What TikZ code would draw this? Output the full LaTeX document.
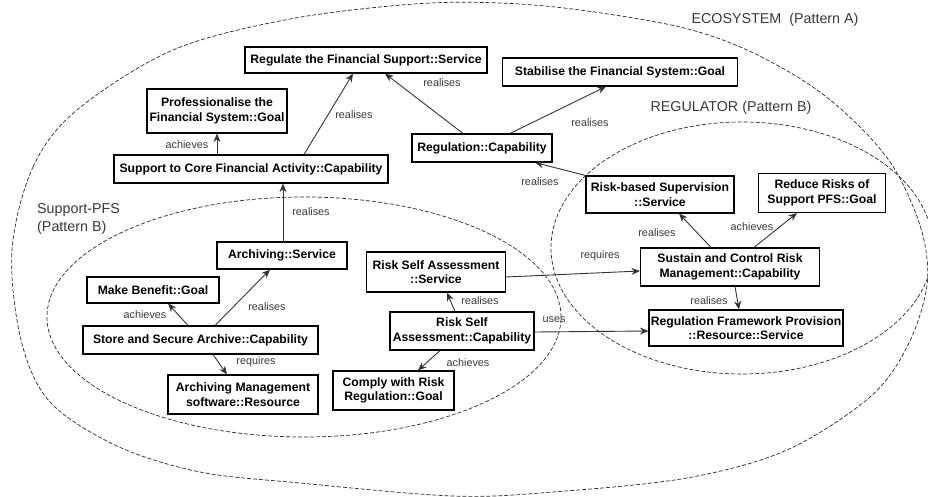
\documentclass[tikz,border=0pt]{standalone}
\usepackage{fontspec}
\setmainfont{Liberation Sans}
\usetikzlibrary{arrows.meta}
\definecolor{lineGray}{HTML}{333333}
\definecolor{labGray}{HTML}{383838}
\definecolor{zoneGray}{HTML}{2A2A2A}
\begin{document}
\begin{tikzpicture}[x=1pt,y=-1pt,
  box/.style={draw=black, line width=1.1pt, fill=white, align=center,
    font=\bfseries\fontsize{12.2}{14.4}\selectfont, inner sep=0pt},
  arr/.style={draw=lineGray, line width=0.9pt, -{Stealth[length=8.5pt,width=7pt]}},
  lab/.style={font=\fontsize{10.8}{13}\selectfont, text=labGray, inner sep=0pt},
  zone/.style={draw=zoneGray, line width=0.7pt, dash pattern=on 4pt off 2pt},
  zlab/.style={font=\fontsize{14.3}{17.5}\selectfont, text=labGray, inner sep=0pt, align=left}
]
\useasboundingbox (0,0) rectangle (928,497);

% zones
\draw[zone] plot[smooth cycle, tension=0.55] coordinates {
  (12,250) (33,167) (77,110) (173,50) (290,19) (414,4) (500,3) (580,10)
  (680,27) (747,50) (813,87) (863,130) (897,173) (922,232) (927,285)
  (908,345) (870,397) (787,450) (687,478) (553,492) (453,496) (300,483)
  (200,472) (117,446) (50,402) (21,340)};
\draw[zone] (304,317) ellipse [x radius=257pt, y radius=120pt];
\draw[zone] (742,248) ellipse [x radius=191pt, y radius=126pt];

\node[zlab] (zeco) at (775,20) {ECOSYSTEM\ \ (Pattern A)};
\node[zlab] (zreg) at (731,108) {REGULATOR (Pattern B)};
\node[zlab, anchor=west] (zsup) at (37,219) {Support-PFS\\(Pattern B)};

% boxes
\node[box, minimum width=242pt, minimum height=26pt] (reg) at (366,60) {Regulate the Financial Support::Service};
\node[box, minimum width=235pt, minimum height=28pt] (stab) at (620,72) {Stabilise the Financial System::Goal};
\node[box, minimum width=140pt, minimum height=44pt] (prof) at (217,111) {Professionalise the\\Financial System::Goal};
\node[box, minimum width=274pt, minimum height=28pt] (core) at (251,169) {Support to Core Financial Activity::Capability};
\node[box, minimum width=140pt, minimum height=28pt] (regcap) at (482,148) {Regulation::Capability};
\node[box, minimum width=148pt, minimum height=37pt] (risksup) at (660,194.5) {Risk-based Supervision\\::Service};
\node[box, minimum width=127pt, minimum height=39pt] (reduce) at (822,193) {Reduce Risks of\\Support PFS::Goal};
\node[box, minimum width=179pt, minimum height=38pt] (sustain) at (730,267) {Sustain and Control Risk\\Management::Capability};
\node[box, minimum width=194pt, minimum height=36pt] (regfw) at (746,328) {Regulation Framework Provision\\::Resource::Service};
\node[box, minimum width=130pt, minimum height=27pt] (arch) at (282,255.5) {Archiving::Service};
\node[box, minimum width=139pt, minimum height=40pt] (rsaserv) at (436,272) {Risk Self Assessment\\::Service};
\node[box, minimum width=132pt, minimum height=26pt] (make) at (153,290) {Make Benefit::Goal};
\node[box, minimum width=235pt, minimum height=28pt] (store) at (200.5,340) {Store and Secure Archive::Capability};
\node[box, minimum width=144pt, minimum height=38pt] (rsacap) at (462,331) {Risk Self\\Assessment::Capability};
\node[box, minimum width=150pt, minimum height=39pt] (archmgmt) at (243,394.5) {Archiving Management\\software::Resource};
\node[box, minimum width=121pt, minimum height=39pt] (comply) at (393.5,390.5) {Comply with Risk\\Regulation::Goal};

% connectors
\draw[arr] ([xshift=53pt]core.north) -- ([xshift=-13pt]reg.south);
\node[lab] (l1) at (354,115) {realises};
\draw[arr] ([xshift=-34pt]core.north) -- (prof.south);
\node[lab] (l2) at (187,145) {achieves};
\draw[arr] ([xshift=-19pt]regcap.north) -- ([xshift=19pt]reg.south);
\node[lab] (l3) at (442,83) {realises};
\draw[arr] ([xshift=28pt]regcap.north) -- ([xshift=-14pt]stab.south);
\node[lab] (l4) at (590,123) {realises};
\draw[arr] (risksup.north west) -- ([xshift=53pt]regcap.south);
\node[lab] (l5) at (540,182) {realises};
\draw[arr] ([xshift=-19pt]sustain.north) -- ([xshift=19pt]risksup.south);
\node[lab] (l6) at (657,233) {realises};
\draw[arr] ([xshift=24pt]sustain.north) -- ([xshift=-25pt]reduce.south);
\node[lab] (l7) at (752,227) {achieves};
\draw[arr] ([xshift=5pt]sustain.south) -- ([xshift=-7pt]regfw.north);
\node[lab] (l8) at (709,301) {realises};
\draw[arr] ([yshift=-5pt]rsaserv.east) -- ([yshift=-4pt]sustain.west);
\node[lab] (l9) at (600,256) {requires};
\draw[arr] ([yshift=-1pt]rsacap.east) -- ([yshift=-3pt]regfw.west);
\node[lab] (l10) at (554,320) {uses};
\draw[arr] ([xshift=1pt]arch.north) -- ([xshift=32pt]core.south);
\node[lab] (l11) at (311,212) {realises};
\draw[arr] ([xshift=-12.5pt]store.north) -- ([xshift=15pt]make.south);
\node[lab] (l12) at (145,315) {achieves};
\draw[arr] ([xshift=14.5pt]store.north) -- ([xshift=-12pt]arch.south);
\node[lab] (l13) at (267,307) {realises};
\draw[arr] ([xshift=12.5pt]store.south) -- ([xshift=-16pt]archmgmt.north);
\node[lab] (l14) at (256,362) {requires};
\draw[arr] ([xshift=-7pt]rsacap.north) -- ([xshift=11pt]rsaserv.south);
\node[lab] (l15) at (480,301) {realises};
\draw[arr] ([xshift=-22pt]rsacap.south) -- ([xshift=24.5pt]comply.north);
\node[lab] (l16) at (468,363) {achieves};
\end{tikzpicture}
\end{document}
